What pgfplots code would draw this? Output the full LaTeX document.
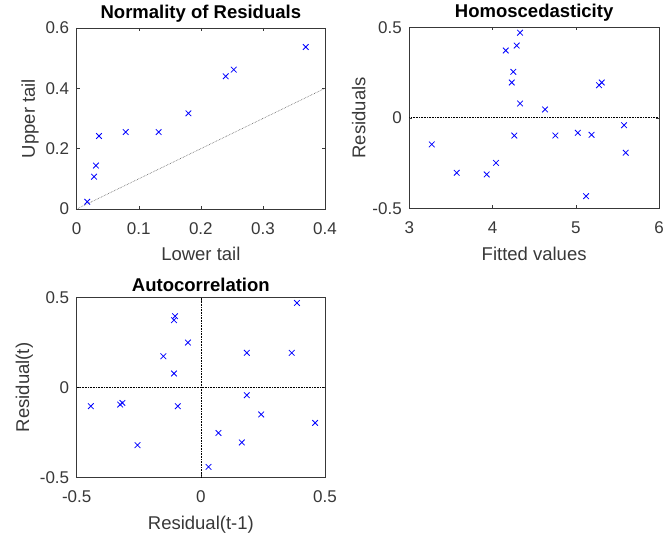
\documentclass[border=0pt]{standalone}
\usepackage{fontspec}
\setmainfont{Liberation Sans}
\usepackage{pgfplots}
\pgfplotsset{compat=1.18}
\definecolor{axgray}{RGB}{56,56,56}

\pgfplotsset{
  matlab/.style={
    scale only axis,
    axis line style={axgray, line width=0.6pt},
    tick style={axgray, line width=0.5pt},
    tick align=inside,
    major tick length=3pt,
    tick label style={font=\fontsize{17}{17}\selectfont, text=axgray},
    xticklabel style={yshift=-10pt},
    yticklabel style={xshift=-4pt},
    label style={font=\fontsize{18.5}{19}\selectfont, text=axgray},
    xlabel style={yshift=-6pt},
    title style={font=\fontsize{18.5}{19}\selectfont\bfseries, yshift=-4pt},
    /pgf/number format/assume math mode=true,
    every axis plot/.append style={line width=0.6pt},
  },
  xmark/.style={only marks, mark=x, mark size=4pt, color=blue, mark options={line width=0.8pt}},
}

\begin{document}
\begin{tikzpicture}
\path[use as bounding box] (0pt,0pt) rectangle (665pt,543pt);

% ---- Normality of residuals
\begin{axis}[matlab, at={(76.7pt,334pt)}, anchor=south west,
  width=248.3pt, height=181pt,
  xmin=0, xmax=0.4, ymin=0, ymax=0.6,
  xtick={0,0.1,...,0.4}, ytick={0,0.2,0.4,0.6},
  xticklabels={0,0.1,0.2,0.3,0.4}, yticklabels={0,0.2,0.4,0.6},
  title={Normality of Residuals},
  xlabel={Lower tail}, ylabel={Upper tail}]
\addplot[densely dotted, black!65, no marks] coordinates {(0,0) (0.4,0.4)};
\addplot[xmark] coordinates {
  (0.017,0.024) (0.028,0.107) (0.031,0.144) (0.036,0.242) (0.079,0.255)
  (0.132,0.255) (0.180,0.317) (0.240,0.440) (0.253,0.462) (0.369,0.537)};
\end{axis}

% ---- Homoscedasticity
\begin{axis}[matlab, at={(409.3pt,334.7pt)}, anchor=south west,
  width=249.7pt, height=181pt,
  xmin=3, xmax=6, ymin=-0.5, ymax=0.5,
  xtick={3,4,5,6}, ytick={-0.5,0,0.5},
  yticklabels={-0.5,0,0.5},
  title={Homoscedasticity},
  xlabel={Fitted values}, ylabel={Residuals}]
\addplot[densely dotted, black, no marks] coordinates {(3,0) (6,0)};
\addplot[xmark] coordinates {
  (4.331,0.470) (4.290,0.399) (4.159,0.372) (4.250,0.254) (4.231,0.195)
  (4.331,0.079) (4.631,0.046) (5.280,0.180) (5.312,0.195) (5.580,-0.041)
  (5.600,-0.193) (5.190,-0.094) (5.024,-0.083) (4.755,-0.098) (4.262,-0.098)
  (3.270,-0.147) (3.570,-0.304) (3.930,-0.313) (4.042,-0.249) (5.124,-0.433)};
\end{axis}

% ---- Autocorrelation
\begin{axis}[matlab, at={(76.7pt,65.7pt)}, anchor=south west,
  width=248.3pt, height=179.6pt,
  xmin=-0.5, xmax=0.5, ymin=-0.5, ymax=0.5,
  xtick={-0.5,0,0.5}, ytick={-0.5,0,0.5},
  xticklabels={-0.5,0,0.5}, yticklabels={-0.5,0,0.5},
  title={Autocorrelation},
  xlabel={Residual(t-1)}, ylabel={Residual(t)}]
\addplot[densely dotted, black, no marks] coordinates {(-0.5,0) (0.5,0)};
\addplot[densely dotted, black, no marks] coordinates {(0,-0.5) (0,0.5)};
\addplot[xmark] coordinates {
  (0.387,0.471) (0.366,0.193) (0.185,0.193) (0.185,-0.043) (0.243,-0.150)
  (0.460,-0.197) (0.071,-0.253) (0.165,-0.306) (0.031,-0.442) (-0.104,0.397)
  (-0.108,0.375) (-0.052,0.250) (-0.151,0.174) (-0.108,0.078) (-0.093,-0.104)
  (-0.443,-0.104) (-0.325,-0.095) (-0.316,-0.086) (-0.255,-0.321)};
\end{axis}
\end{tikzpicture}
\end{document}
